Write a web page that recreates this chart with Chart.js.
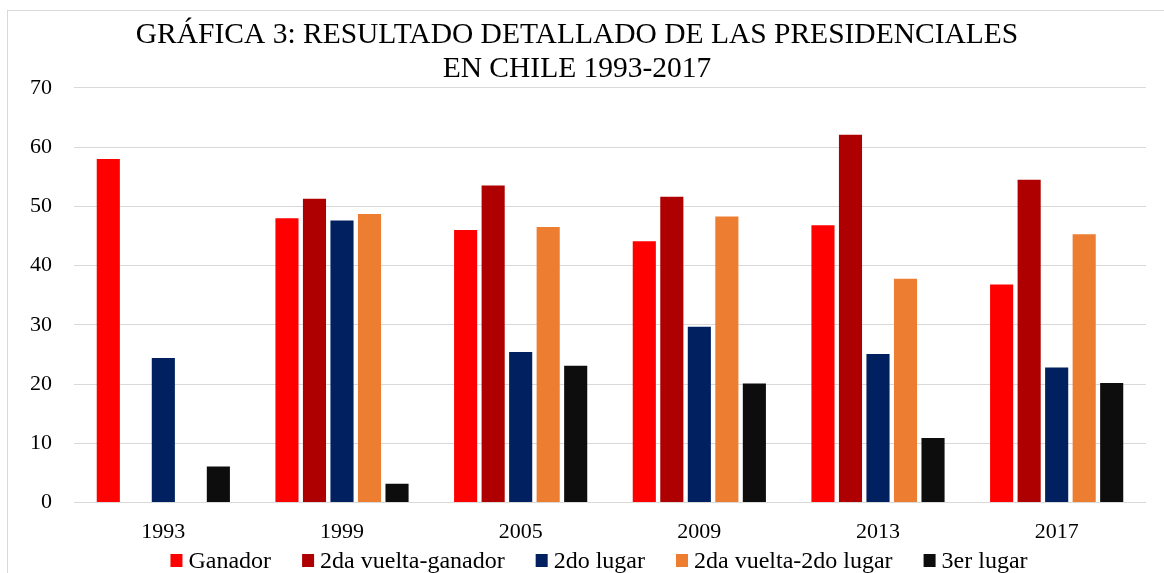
<!DOCTYPE html>
<html lang="es">
<head>
<meta charset="utf-8">
<title>Resultado detallado de las presidenciales en Chile 1993-2017</title>
<script src="https://cdn.jsdelivr.net/npm/chart.js@4/dist/chart.umd.min.js"></script>
<style>
  html, body { margin: 0; padding: 0; background: #fff; overflow: hidden; }
  #frame {
    position: absolute; left: 7px; top: 10px; width: 1200px; height: 620px;
    border-left: 1px solid #d9d9d9; border-top: 1px solid #d9d9d9;
  }
  #chart { position: absolute; left: 0; top: 0; }
</style>
</head>
<body>
<div id="frame"></div>
<canvas id="chart" width="1164" height="573"></canvas>
<script>
// Elecciones presidenciales (porcentaje de votos)
const years = ['1993', '1999', '2005', '2009', '2013', '2017'];
const ganador = [58.0, 48.0, 46.0, 44.1, 46.8, 36.8];
const segundaVueltaGanador = [null, 51.3, 53.5, 51.6, 62.1, 54.5];
const segundoLugar = [24.4, 47.6, 25.4, 29.7, 25.1, 22.8];
const segundaVueltaSegundo = [null, 48.7, 46.5, 48.3, 37.8, 45.3];
const tercerLugar = [6.1, 3.2, 23.1, 20.1, 10.9, 20.2];
const yTicks = [0, 10, 20, 30, 40, 50, 60, 70];

const serif = '"Liberation Serif", "Times New Roman", serif';

const series = [
  { label: 'Ganador', data: ganador, color: '#FF0000' },
  { label: '2da vuelta-ganador', data: segundaVueltaGanador, color: '#AE0000' },
  { label: '2do lugar', data: segundoLugar, color: '#00205F' },
  { label: '2da vuelta-2do lugar', data: segundaVueltaSegundo, color: '#ED7D31' },
  { label: '3er lugar', data: tercerLugar, color: '#0D0D0D' }
];

// Compact legend row: small square swatch, tight gap to the label, wide gap between entries
const compactLegend = {
  id: 'compactLegend',
  afterDraw(chart, args, opts) {
    const ctx = chart.ctx;
    const ds = chart.data.datasets;
    ctx.save();
    ctx.font = opts.fontSize + 'px ' + serif;
    ctx.textBaseline = 'alphabetic';
    ctx.textAlign = 'left';
    const widths = ds.map(d => ctx.measureText(d.label).width);
    const total = widths.reduce((a, w) => a + opts.box + opts.gap + w, 0) + opts.spacing * (ds.length - 1);
    let x = opts.centerX - total / 2;
    ds.forEach((d, i) => {
      ctx.fillStyle = d.backgroundColor;
      ctx.fillRect(x, opts.baseline - opts.boxH - 1, opts.box, opts.boxH);
      x += opts.box + opts.gap;
      ctx.fillStyle = '#000';
      ctx.fillText(d.label, x, opts.baseline);
      x += widths[i] + opts.spacing;
    });
    ctx.restore();
  }
};

new Chart(document.getElementById('chart'), {
  type: 'bar',
  data: {
    labels: years,
    datasets: series.map(s => ({
      label: s.label,
      data: s.data,
      backgroundColor: s.color,
      borderWidth: 0,
      categoryPercentage: 0.77,
      barPercentage: 0.84
    }))
  },
  plugins: [compactLegend],
  options: {
    responsive: false,
    animation: false,
    layout: { padding: { left: 8, right: 18, top: 10, bottom: 12 } },
    plugins: {
      title: {
        display: true,
        text: ['GRÁFICA 3: RESULTADO DETALLADO DE LAS PRESIDENCIALES', 'EN CHILE 1993-2017'],
        color: '#000',
        font: { family: serif, size: 29.5, weight: 'normal', lineHeight: 1.15 },
        padding: { top: 8, bottom: 2 }
      },
      legend: { display: false },
      compactLegend: { fontSize: 24, box: 12, boxH: 13, gap: 6, spacing: 31, centerX: 599, baseline: 568 },
      tooltip: { enabled: false }
    },
    scales: {
      x: {
        grid: { display: false, drawTicks: false },
        border: { display: false },
        ticks: { color: '#000', font: { family: serif, size: 22 }, padding: 16 }
      },
      y: {
        min: 0,
        max: 70,
        afterBuildTicks: axis => { axis.ticks = yTicks.map(v => ({ value: v })); },
        grid: { color: '#d9d9d9', lineWidth: 1, drawTicks: false },
        border: { display: false },
        ticks: { color: '#000', font: { family: serif, size: 22 }, padding: 22 }
      }
    }
  }
});
</script>
</body>
</html>
